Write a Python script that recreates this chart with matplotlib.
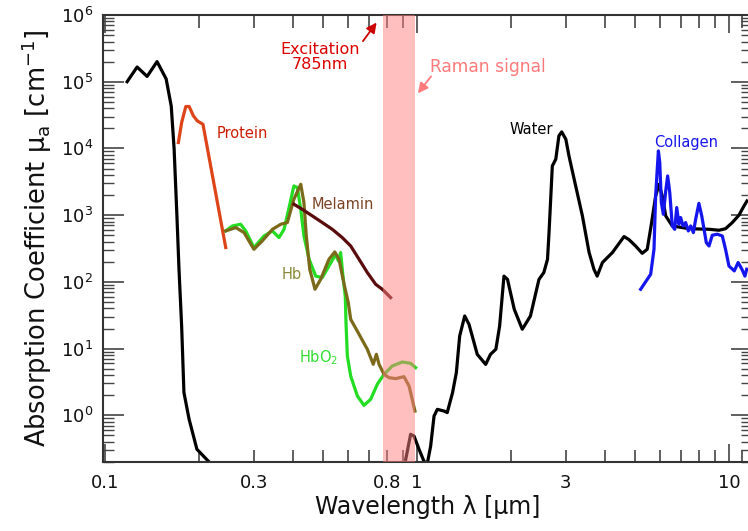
import matplotlib
matplotlib.use("Agg")
import matplotlib.pyplot as plt
from matplotlib.ticker import FixedLocator, FuncFormatter, NullFormatter, LogLocator

plt.rcParams['mathtext.default'] = 'regular'
plt.rcParams['font.family'] = ['DejaVu Sans']

# absorption spectra (wavelength in um, mu_a in 1/cm)
water_uv_x = [0.1177, 0.1267, 0.1364, 0.1468, 0.157, 0.163, 0.1665, 0.170, 0.1726,
              0.176, 0.179, 0.186, 0.197, 0.2156]
water_uv_y = [1.0e5, 1.66e5, 1.2e5, 2.0e5, 1.1e5, 4.3e4, 9.8e3, 960, 155,
              21.8, 2.2, 0.87, 0.31, 0.2]

water_x = [0.920, 0.954, 0.978, 1.015, 1.053, 1.079, 1.106, 1.134, 1.162, 1.22, 1.25,
           1.30, 1.337, 1.37, 1.422, 1.468, 1.56, 1.66, 1.72, 1.79, 1.84, 1.90, 1.95,
           2.05, 2.175, 2.31, 2.46, 2.55, 2.62, 2.65, 2.715, 2.785, 2.85, 2.91, 3.0,
           3.07, 3.19, 3.39, 3.56, 3.69, 3.78, 3.93, 4.23, 4.61, 4.78, 5.02, 5.27,
           5.47, 5.65, 5.82, 5.97, 6.11, 6.27, 6.58, 7.44, 8.63, 9.29, 9.75, 10.25,
           10.76, 11.17, 11.42]
water_y = [0.219, 0.52, 0.49, 0.31, 0.204, 0.19, 0.347, 0.976, 1.23, 1.16, 1.10,
           2.19, 4.37, 15.4, 30.8, 23.1, 8.2, 5.8, 8.2, 9.8, 21.8, 122, 109,
           38.8, 19.5, 30.8, 109, 138, 218, 554, 5470, 6890, 15400, 17700, 13700,
           7720, 3450, 973, 278, 155, 122, 195, 275, 478, 430, 345, 268,
           308, 775, 1940, 2900, 1940, 973, 689, 627, 614, 594, 627, 775,
           997, 1370, 1630]

protein_x = [0.1718, 0.176, 0.1815, 0.186, 0.192, 0.1977, 0.206, 0.2437]
protein_y = [12270, 24400, 42500, 42500, 30700, 25800, 23000, 327]

melanin_x = [0.403, 0.429, 0.462, 0.497, 0.535, 0.576, 0.613, 0.652, 0.693, 0.737, 0.774, 0.823]
melanin_y = [1460, 1220, 973, 775, 614, 461, 345, 218, 138, 92, 77.5, 58.2]

hb_x = [0.2437, 0.2625, 0.279, 0.300, 0.319, 0.344, 0.366, 0.384, 0.403, 0.424, 0.434,
        0.4417, 0.453, 0.471, 0.491, 0.522, 0.545, 0.5623, 0.583, 0.602, 0.613, 0.652,
        0.693, 0.724, 0.741, 0.7555, 0.784, 0.813, 0.855, 0.908, 0.943, 0.985]
hb_y = [580, 651, 548, 308, 410, 614, 731, 775, 1730, 2900, 1550,
        488, 155, 77.5, 109, 218, 281, 218, 95, 49, 27.5, 16.4,
        9.77, 5.82, 8.22, 5.82, 4.12, 3.67, 3.55, 3.80, 2.75, 1.16]

hbo2_x = [0.2437, 0.256, 0.272, 0.2825, 0.300, 0.3233, 0.344, 0.361, 0.3748, 0.389, 0.403,
          0.4135, 0.424, 0.434, 0.451, 0.4735, 0.497, 0.522, 0.5487, 0.5596, 0.569, 0.579,
          0.589, 0.592, 0.598, 0.613, 0.644, 0.676, 0.7103, 0.746, 0.784, 0.833, 0.897,
          0.954, 0.99]
hbo2_y = [580, 689, 731, 580, 327, 488, 580, 461, 614, 1300, 2740,
          2590, 1220, 488, 218, 122, 116, 173, 259, 206, 275, 122,
          60, 25, 7.75, 3.88, 1.95, 1.41, 1.74, 2.92, 4.12, 5.49, 6.3,
          6.02, 5.19]

collagen_x = [5.21, 5.61, 5.75, 5.82, 5.89, 5.94, 6.0, 6.07, 6.16, 6.27, 6.36, 6.46, 6.58,
              6.70, 6.80, 6.91, 7.0, 7.12, 7.26, 7.41, 7.54, 7.69, 7.82, 8.01, 8.18, 8.32,
              8.46, 8.63, 8.84, 9.17, 9.52, 9.75, 10.0, 10.4, 10.7, 11.0, 11.25, 11.4]
collagen_y = [77.5, 130, 308, 1940, 4880, 9180, 6150, 1550, 1030, 2310, 3870, 2180, 689,
              614, 1300, 731, 920, 689, 775, 580, 689, 548, 868, 1500, 973, 614,
              388, 345, 500, 518, 488, 308, 173, 146, 195, 155, 122, 155]

raman_band = (0.78, 0.985)
excitation_nm = 785

xtick_labels = {0.1: "0.1", 0.3: "0.3", 0.8: "0.8", 1: "1", 3: "3", 10: "10"}
ytick_major = [1, 10, 100, 1e3, 1e4, 1e5, 1e6]

fig = plt.figure(figsize=(7.48, 5.31), dpi=100)
ax = fig.add_axes([0.1377, 0.130, 0.8676, 0.8418])

lw = 2.3
ax.plot(water_uv_x, water_uv_y, color='black', lw=lw)
ax.plot(water_x, water_y, color='black', lw=lw)
ax.plot(protein_x, protein_y, color='#dd4418', lw=lw)
ax.plot(hbo2_x, hbo2_y, color='#22dd22', lw=lw)
ax.plot(hb_x, hb_y, color='#7a6a1a', lw=lw)
ax.plot(melanin_x, melanin_y, color='#5a0c0c', lw=lw)
ax.plot(collagen_x, collagen_y, color='#1515ee', lw=lw)

# raman band drawn over the curves
ax.axvspan(raman_band[0], raman_band[1], color='#ff8080', alpha=0.5, lw=0, zorder=5)

ax.set_xscale('log')
ax.set_yscale('log')
ax.set_xlim(0.0985, 11.85)
ax.set_ylim(0.2, 1e6)

# x ticks: decades long, others short; only some labelled
ax.xaxis.set_major_locator(FixedLocator([0.1, 1, 10]))
ax.xaxis.set_minor_locator(FixedLocator([0.2, 0.3, 0.4, 0.5, 0.6, 0.7, 0.8, 0.9,
                                         2, 3, 4, 5, 6, 7, 8, 9, 11]))
lab = lambda v, pos: xtick_labels.get(round(v, 3), "")
ax.xaxis.set_major_formatter(FuncFormatter(lab))
ax.xaxis.set_minor_formatter(FuncFormatter(lab))
ax.yaxis.set_major_locator(FixedLocator(ytick_major))
ax.yaxis.set_minor_locator(LogLocator(base=10, subs=range(2, 10), numticks=20))
ax.yaxis.set_minor_formatter(NullFormatter())

ax.tick_params(which='both', direction='in', top=True, right=True, color='#444',
               labelsize=13, labelcolor='#111')
ax.tick_params(axis='x', which='major', length=13, width=1.2, pad=9)
ax.tick_params(axis='x', which='minor', length=9, width=1.2, pad=9)
ax.tick_params(axis='y', which='major', length=15, width=1.2, pad=7)
ax.tick_params(axis='y', which='minor', length=8, width=1.0)
for s in ax.spines.values():
    s.set_color('#333')
    s.set_linewidth(1.5)

ax.set_xlabel("Wavelength λ [μm]", fontsize=17, color='#111', labelpad=2)
ax.set_ylabel("Absorption Coefficient μ$_a$ [cm$^{-1}$]", fontsize=18.5, color='#111', labelpad=5)

# annotations
ax.text(0.489, 2.33e5, "Excitation\n%dnm" % excitation_nm, ha='center', va='center',
        color='#dd0000', fontsize=11.5, linespacing=0.95)
ax.annotate("", xy=(0.742, 7.7e5), xytext=(0.671, 4.05e5),
            arrowprops=dict(arrowstyle='-|>', color='#cc0000', lw=1.3, mutation_scale=15,
                            shrinkA=0, shrinkB=0))
ax.text(1.69, 1.65e5, "Raman signal", ha='center', va='center', color='#ff7a7a', fontsize=12.3)
ax.annotate("", xy=(1.007, 6.7e4), xytext=(1.109, 1.2e5),
            arrowprops=dict(arrowstyle='-|>', color='#ff7a7a', lw=1.3, mutation_scale=15,
                            shrinkA=0, shrinkB=0))
ax.text(0.275, 1.69e4, "Protein", color='#cc1a00', fontsize=10.5, ha='center', va='center')
ax.text(0.579, 1460, "Melamin", color='#7a4424', fontsize=10.5, ha='center', va='center')
ax.text(0.398, 130, "Hb", color='#8a8a3a', fontsize=10.5, ha='center', va='center')
ax.text(0.485, 7.4, "HbO$_2$", color='#33dd33', fontsize=10.5, ha='center', va='center')
ax.text(2.32, 1.94e4, "Water", color='black', fontsize=10.5, ha='center', va='center')
ax.text(7.28, 1.24e4, "Collagen", color='#1515ee', fontsize=10.5, ha='center', va='center')

fig.savefig("out.png", dpi=100)
